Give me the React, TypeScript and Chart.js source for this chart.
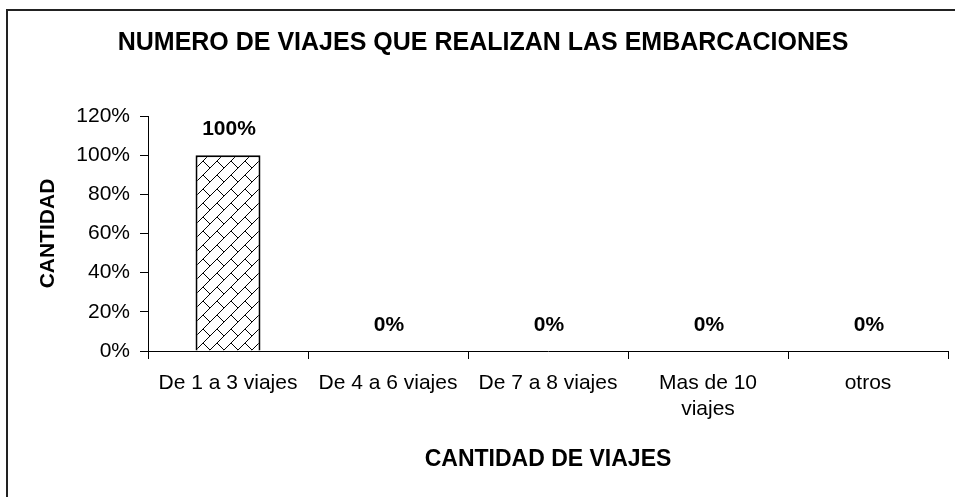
import React, { useEffect, useRef } from "react";
import { Chart, registerables } from "chart.js";

Chart.register(...registerables);

const TITLE = "NUMERO DE VIAJES QUE REALIZAN LAS EMBARCACIONES";
const X_TITLE = "CANTIDAD DE VIAJES";
const Y_TITLE = "CANTIDAD";
const CATEGORIES: (string | string[])[] = [
  "De 1 a 3 viajes",
  "De 4 a 6 viajes",
  "De 7 a 8 viajes",
  ["Mas de 10", "viajes"],
  "otros",
];
const VALUES = [100, 0, 0, 0, 0];
const Y_MIN = 0;
const Y_MAX = 120;
const Y_STEP = 20;

const FONT = "Arial, 'Liberation Sans', sans-serif";

function makePattern(): CanvasPattern | string {
  const t = 14;
  const c = document.createElement("canvas");
  c.width = t;
  c.height = t;
  const g = c.getContext("2d");
  if (!g) return "#fff";
  g.fillStyle = "#fff";
  g.fillRect(0, 0, t, t);
  g.strokeStyle = "#000";
  g.lineWidth = 1;
  g.beginPath();
  g.moveTo(-1, t + 1);
  g.lineTo(t + 1, -1);
  g.moveTo(t / 2, t / 2);
  g.lineTo(t + 1, t + 1);
  g.stroke();
  return g.createPattern(c, "repeat") || "#fff";
}

const valueLabels = {
  id: "valueLabels",
  afterDatasetsDraw(chart: any) {
    const ctx = chart.ctx;
    const meta = chart.getDatasetMeta(0);
    ctx.save();
    ctx.font = `bold 21px ${FONT}`;
    ctx.fillStyle = "#000";
    ctx.textAlign = "center";
    ctx.textBaseline = "middle";
    meta.data.forEach((bar: any, i: number) => {
      ctx.fillText(`${VALUES[i]}%`, bar.x + 1, bar.y - 26);
    });
    ctx.restore();
  },
};

export default function App() {
  const ref = useRef<HTMLCanvasElement | null>(null);

  useEffect(() => {
    if (!ref.current) return;
    const chart = new Chart(ref.current, {
      type: "bar",
      data: {
        labels: CATEGORIES,
        datasets: [
          {
            data: VALUES,
            backgroundColor: makePattern() as any,
            borderColor: "#000",
            borderWidth: 2,
            categoryPercentage: 1,
            barPercentage: 0.406,
          },
        ],
      },
      options: {
        animation: false,
        responsive: true,
        maintainAspectRatio: false,
        layout: { padding: { left: 18, right: 7, top: 0, bottom: 0 } },
        plugins: {
          legend: { display: false },
          tooltip: { enabled: false },
          title: {
            display: true,
            text: TITLE,
            color: "#000",
            font: { family: FONT, size: 25, weight: "bold" },
            padding: { top: 28, bottom: 58 },
          },
        },
        scales: {
          x: {
            grid: {
              offset: true,
              drawOnChartArea: false,
              tickLength: 8,
              color: "#000",
            },
            border: { color: "#000", width: 1 },
            ticks: {
              color: "#000",
              font: { family: FONT, size: 21 },
              padding: 12,
              maxRotation: 0,
              autoSkip: false,
            },
            title: {
              display: true,
              text: X_TITLE,
              color: "#000",
              font: { family: FONT, size: 23, weight: "bold" },
              padding: { top: 0, bottom: 24 },
            },
            afterFit: (s: any) => {
              s.height = 146;
            },
          },
          y: {
            min: Y_MIN,
            max: Y_MAX,
            grid: {
              drawOnChartArea: false,
              tickLength: 8,
              color: "#000",
            },
            border: { color: "#000", width: 1 },
            ticks: {
              stepSize: Y_STEP,
              color: "#000",
              font: { family: FONT, size: 21 },
              padding: 10,
              callback: (v: any) => `${v}%`,
            },
            title: {
              display: true,
              text: Y_TITLE,
              color: "#000",
              font: { family: FONT, size: 21, weight: "bold" },
              padding: { top: 18, bottom: 0 },
            },
            afterFit: (s: any) => {
              s.width = 130;
            },
          },
        },
      },
      plugins: [valueLabels],
    });
    return () => chart.destroy();
  }, []);

  return (
    <div
      style={{
        position: "absolute",
        left: 0,
        top: 0,
        width: 955,
        height: 497,
        overflow: "hidden",
        background: "#fff",
      }}
    >
      <div
        style={{
          position: "absolute",
          left: 6,
          top: 9,
          width: 1200,
          height: 1000,
          borderTop: "2px solid #222",
          borderLeft: "2px solid #222",
        }}
      />
      <div style={{ position: "absolute", left: 0, top: 0, width: 955, height: 497 }}>
        <canvas ref={ref} />
      </div>
    </div>
  );
}
